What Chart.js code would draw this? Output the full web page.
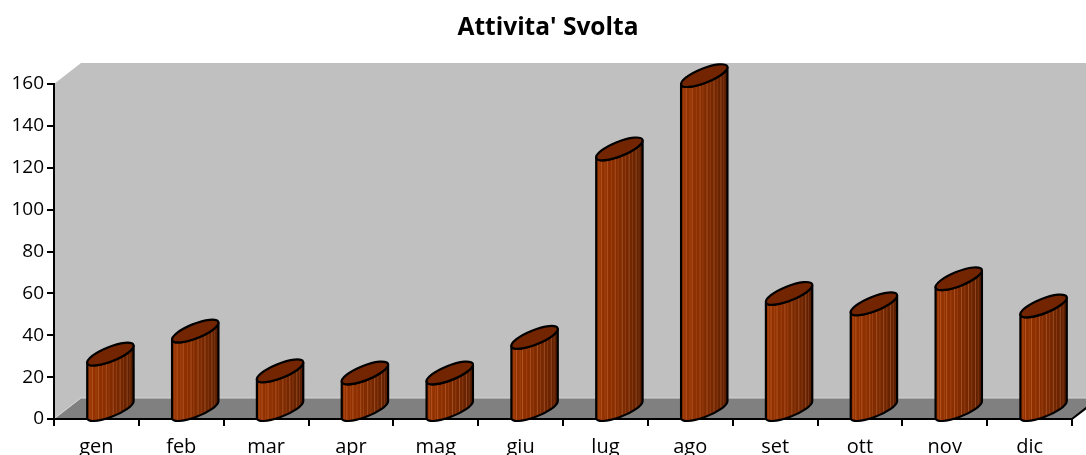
<!DOCTYPE html>
<html>
<head>
<meta charset="utf-8">
<title>Attivita' Svolta</title>
<script src="https://cdn.jsdelivr.net/npm/chart.js@4/dist/chart.umd.min.js"></script>
<style>
    html, body { margin: 0; padding: 0; background: #ffffff; }
    #wrap { width: 1086px; height: 455px; }
</style>
</head>
<body>
<div id="wrap"><canvas id="chart1"></canvas></div>
<script>
const months = ['gen', 'feb', 'mar', 'apr', 'mag', 'giu', 'lug', 'ago', 'set', 'ott', 'nov', 'dic'];
const activity = [27, 38, 19, 18, 18, 35, 125, 160, 56, 51, 63, 50];
const yMin = 0;
const yMax = 160;
const yStep = 20;

// depth of the 3d box (screen offset of the back wall)
const DEPTH_X = 27;
const DEPTH_Y = -21;

const wallsPlugin = {
    id: 'walls3d',
    afterLayout(chart) {
        // centre the title over the plot, like the original
        if (chart.titleBlock) {
            chart.titleBlock.left = 24;
        }
    },
    beforeDraw(chart) {
        const { ctx } = chart;
        const { left, right, top, bottom } = chart.chartArea;
        ctx.save();
        // side wall
        ctx.fillStyle = '#c0c0c0';
        ctx.beginPath();
        ctx.moveTo(left, bottom);
        ctx.lineTo(left, top);
        ctx.lineTo(left + DEPTH_X, top + DEPTH_Y);
        ctx.lineTo(left + DEPTH_X, bottom + DEPTH_Y);
        ctx.closePath();
        ctx.fill();
        // back wall
        ctx.fillRect(left + DEPTH_X, top + DEPTH_Y, right - left, bottom - top);
        // floor
        ctx.fillStyle = '#808080';
        ctx.beginPath();
        ctx.moveTo(left, bottom);
        ctx.lineTo(right, bottom);
        ctx.lineTo(right + DEPTH_X, bottom + DEPTH_Y);
        ctx.lineTo(left + DEPTH_X, bottom + DEPTH_Y);
        ctx.closePath();
        ctx.fill();
        // light edges where the floor meets the walls
        ctx.strokeStyle = '#d4d4d4';
        ctx.lineWidth = 1;
        ctx.beginPath();
        ctx.moveTo(left + 1, bottom - 1);
        ctx.lineTo(left + DEPTH_X, bottom + DEPTH_Y);
        ctx.lineTo(right + DEPTH_X, bottom + DEPTH_Y);
        ctx.stroke();
        // right edge of the floor
        ctx.strokeStyle = '#000000';
        ctx.lineWidth = 2;
        ctx.beginPath();
        ctx.moveTo(right, bottom);
        ctx.lineTo(right + DEPTH_X, bottom + DEPTH_Y);
        ctx.stroke();
        ctx.restore();
    },
};

function bodyPath(ctx, cx, cyTop, cyBot, xr, yr, a, b, rot, t1) {
    ctx.beginPath();
    ctx.moveTo(cx - xr, cyTop - yr);
    ctx.lineTo(cx - xr, cyBot - yr);
    ctx.ellipse(cx, cyBot, a, b, rot, t1 + Math.PI, t1, true);
    ctx.lineTo(cx + xr, cyTop + yr);
    ctx.ellipse(cx, cyTop, a, b, rot, t1, t1 + Math.PI, false);
    ctx.closePath();
}

function drawCylinder(ctx, cx, yTop, yBase) {
    const a = 24.8, b = 7.2, rot = -0.38;
    const c = Math.cos(rot), s = Math.sin(rot);
    const t1 = Math.atan2(-b * s, a * c);
    const xr = a * Math.cos(t1) * c - b * Math.sin(t1) * s;
    const yr = a * Math.cos(t1) * s + b * Math.sin(t1) * c;
    // left end of each ellipse sits on the value line
    const cyTop = yTop + yr;
    const cyBot = yBase + yr;

    ctx.save();
    bodyPath(ctx, cx, cyTop, cyBot, xr, yr, a, b, rot, t1);
    const grad = ctx.createLinearGradient(cx - xr, 0, cx + xr, 0);
    grad.addColorStop(0, '#983400');
    grad.addColorStop(0.35, '#8c2f00');
    grad.addColorStop(0.75, '#712600');
    grad.addColorStop(1, '#561c00');
    ctx.fillStyle = grad;
    ctx.fill();

    // fine vertical streaks
    ctx.save();
    ctx.clip();
    const streaks = [0.06, 0.11, 0.19, 0.24, 0.33, 0.41, 0.47, 0.56, 0.63, 0.71, 0.78, 0.86, 0.92];
    ctx.lineWidth = 1;
    streaks.forEach((p, i) => {
        const x = cx - xr + p * 2 * xr;
        ctx.strokeStyle = i % 2 ? 'rgba(235,150,100,0.35)' : 'rgba(200,110,60,0.3)';
        ctx.beginPath();
        ctx.moveTo(x, cyTop - 20);
        ctx.lineTo(x, cyBot + 20);
        ctx.stroke();
    });
    ctx.restore();

    ctx.strokeStyle = '#000000';
    ctx.lineWidth = 2.2;
    ctx.lineJoin = 'round';
    bodyPath(ctx, cx, cyTop, cyBot, xr, yr, a, b, rot, t1);
    ctx.stroke();

    // top cap
    ctx.beginPath();
    ctx.ellipse(cx, cyTop, a, b, rot, 0, Math.PI * 2);
    ctx.fillStyle = '#722500';
    ctx.fill();
    ctx.stroke();
    ctx.restore();
}

const cylindersPlugin = {
    id: 'cylinders',
    afterDatasetsDraw(chart) {
        const meta = chart.getDatasetMeta(0);
        meta.data.forEach((bar) => {
            drawCylinder(chart.ctx, bar.x + 14, bar.y, bar.base);
        });
    },
};

const getChartElement = document.getElementById('chart1');
new Chart(getChartElement, {
    type: 'bar',
    data: {
        labels: months,
        datasets: [{
            label: 'Attivita',
            data: activity,
            backgroundColor: 'rgba(0,0,0,0)',
            borderWidth: 0,
        }]
    },
    options: {
        responsive: true,
        maintainAspectRatio: false,
        animation: false,
        layout: {
            padding: { left: 0, right: 14, top: 0, bottom: 0 },
        },
        plugins: {
            legend: { display: false },
            tooltip: { enabled: false },
            title: {
                display: true,
                text: "Attivita' Svolta",
                color: '#000000',
                font: { family: 'Open Sans', size: 24.5, weight: 'bold', lineHeight: 1.2 },
                padding: { top: 13, bottom: 41.6 },
            },
        },
        scales: {
            y: {
                min: yMin,
                max: yMax,
                afterFit: (scale) => { scale.width = 54; },
                ticks: {
                    stepSize: yStep,
                    color: '#000000',
                    padding: 3,
                    font: { family: 'Open Sans', size: 19 },
                },
                border: { display: true, color: '#000000', width: 2 },
                grid: {
                    drawOnChartArea: false,
                    drawTicks: true,
                    tickLength: 7,
                    tickColor: '#000000',
                    lineWidth: 2,
                },
            },
            x: {
                afterFit: (scale) => { scale.height = 36; },
                ticks: {
                    color: '#000000',
                    padding: 9,
                    font: { family: 'Open Sans', size: 20 },
                },
                border: { display: true, color: '#000000', width: 2 },
                grid: {
                    offset: true,
                    drawOnChartArea: false,
                    drawTicks: true,
                    tickLength: 7,
                    tickColor: '#000000',
                    lineWidth: 2,
                },
            },
        },
    },
    plugins: [wallsPlugin, cylindersPlugin],
});
</script>
</body>
</html>
